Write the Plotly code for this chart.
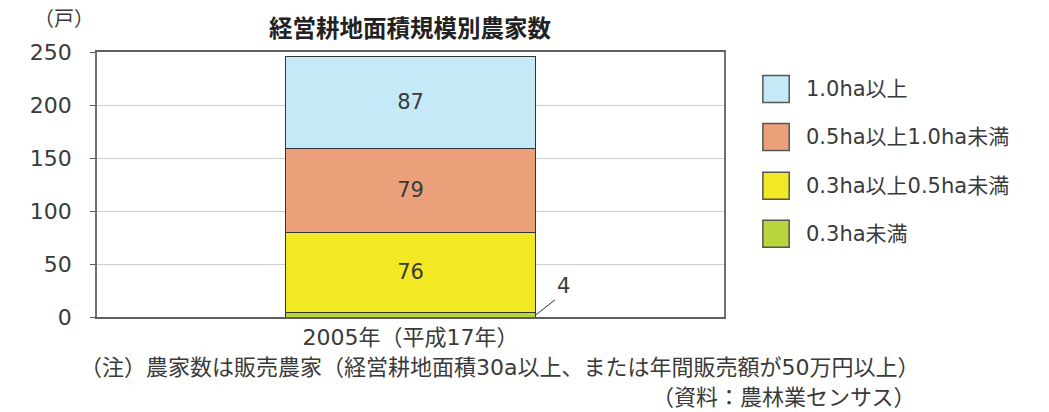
import plotly.graph_objects as go

categories = ["2005年（平成17年）"]
series_names = ["0.3ha未満", "0.3ha以上0.5ha未満", "0.5ha以上1.0ha未満", "1.0ha以上"]
series_values = [[4], [76], [79], [87]]
colors = ["#B8D63C", "#F2E823", "#EBA07A", "#C6E9F8"]
y_ticks = [0, 50, 100, 150, 200, 250]

FONT = "DejaVu Sans, Noto Sans CJK JP"
TXT = "#3a3a3a"

fig = go.Figure()
for name, vals, col in zip(series_names, series_values, colors):
    show_text = vals[0] >= 10
    fig.add_trace(go.Bar(
        x=categories, y=vals, name=name,
        marker=dict(color=col, line=dict(color="#333333", width=1)),
        text=[str(v) for v in vals] if show_text else None,
        textposition="inside", insidetextanchor="middle",
        textfont=dict(size=21, color=TXT, family=FONT),
        showlegend=False, hoverinfo="skip",
    ))

# small value label with leader line
fig.add_annotation(x=0.2, y=series_values[0][0] / 2, xref="x", yref="y",
                   text=str(series_values[0][0]), showarrow=True, arrowhead=0,
                   arrowwidth=1, arrowcolor="#333333", ax=19, ay=-15,
                   font=dict(size=21, color=TXT, family=FONT),
                   xanchor="left", yanchor="bottom")

# manual legend (top item first)
leg_y = [0.860, 0.679, 0.495, 0.314]
for (name, col), yy in zip(list(zip(series_names, colors))[::-1], leg_y):
    fig.add_shape(type="rect", xref="paper", yref="paper",
                  x0=1.062, x1=1.104, y0=yy - 0.051, y1=yy + 0.051,
                  fillcolor=col, line=dict(color="#555555", width=1.5))
    fig.add_annotation(xref="paper", yref="paper", x=1.127, y=yy, text=name,
                       showarrow=False, xanchor="left", yanchor="middle",
                       font=dict(size=21, color=TXT, family=FONT))

fig.add_annotation(xref="paper", yref="paper", x=-0.053, y=1.125, text="（戸）",
                   showarrow=False, xanchor="center", yanchor="middle",
                   font=dict(size=20, color=TXT, family=FONT))
fig.add_annotation(xref="paper", yref="paper", x=0.5, y=1.087, text="<b>経営耕地面積規模別農家数</b>",
                   showarrow=False, xanchor="center", yanchor="middle",
                   font=dict(size=23.5, color="#222222", family=FONT))
fig.add_annotation(xref="paper", yref="paper", x=-0.031, y=-0.192,
                   text="（注）農家数は販売農家（経営耕地面積30a以上、または年間販売額が50万円以上）",
                   showarrow=False, xanchor="left", yanchor="middle",
                   font=dict(size=22, color=TXT, family=FONT))
fig.add_annotation(xref="paper", yref="paper", x=1.31, y=-0.302,
                   text="（資料：農林業センサス）",
                   showarrow=False, xanchor="right", yanchor="middle",
                   font=dict(size=22, color=TXT, family=FONT))

# page body has an 8px margin: shrink figure so the plot lands where the reference has it
fig.update_layout(
    barmode="stack", bargap=0.6,
    width=1041, height=404,
    margin=dict(l=89, r=325, t=44, b=95),
    paper_bgcolor="white", plot_bgcolor="white",
    font=dict(family=FONT, color=TXT),
    showlegend=False,
)
fig.update_yaxes(range=[0, 250], tickvals=y_ticks, ticks="outside", ticklen=5,
                 tickcolor="#555555", showgrid=True, gridcolor="#cccccc",
                 showline=True, linecolor="#707070", linewidth=1.5, mirror=True,
                 ticklabelstandoff=14,
                 tickfont=dict(size=22, color=TXT, family=FONT), zeroline=False)
fig.update_xaxes(showline=True, linecolor="#606060", linewidth=1.5, mirror=True,
                 ticks="", tickfont=dict(size=22, color=TXT, family=FONT))

fig.write_html("out.html")
